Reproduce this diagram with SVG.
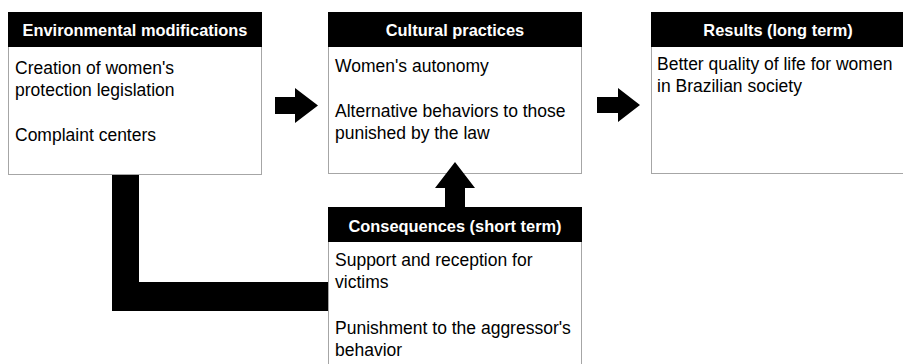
<svg xmlns="http://www.w3.org/2000/svg" width="903" height="364" viewBox="0 0 903 364">
<style>
.box{fill:#fff;stroke:#a6a6a6;stroke-width:1}
.hdr{fill:#000}
.ht{font-family:"Liberation Sans",Arial,sans-serif;font-weight:bold;font-size:16.4px;fill:#fff;text-anchor:middle}
.bt{font-family:"Liberation Sans",Arial,sans-serif;font-size:17.5px;fill:#000}
.conn{fill:#000}
</style>
<rect width="903" height="364" fill="#fff"/>
<g id="connectors">
<path class="conn" d="M112,175 H139 V282 H328 V311 H112 Z"/>
<path class="conn" d="M275,97 H295 V88 L318,105.5 L295,123 V114 H275 Z"/>
<path class="conn" d="M597,97 H618 V88 L640,105 L618,122 V113 H597 Z"/>
</g>
<g id="env">
<rect class="box" x="8.5" y="12.5" width="253" height="162"/>
<rect class="hdr" x="8" y="12" width="254" height="35"/>
<text class="ht" x="135" y="36">Environmental modifications</text>
<text class="bt" x="15" y="74">Creation of women's</text>
<text class="bt" x="15" y="96">protection legislation</text>
<text class="bt" x="15" y="141">Complaint centers</text>
</g>
<g id="cultural">
<rect class="box" x="328.5" y="12.5" width="253" height="161"/>
<rect class="hdr" x="328" y="12" width="254" height="35"/>
<text class="ht" x="455" y="36">Cultural practices</text>
<text class="bt" x="335" y="72">Women's autonomy</text>
<text class="bt" x="335" y="117">Alternative behaviors to those</text>
<text class="bt" x="335" y="139">punished by the law</text>
</g>
<g id="results">
<rect class="box" x="651.5" y="12.5" width="253" height="161"/>
<rect class="hdr" x="651" y="12" width="254" height="35"/>
<text class="ht" x="778" y="36">Results (long term)</text>
<text class="bt" x="657" y="70">Better quality of life for women</text>
<text class="bt" x="657" y="92">in Brazilian society</text>
</g>
<g id="consequences">
<rect class="box" x="328.5" y="207.5" width="253" height="170"/>
<rect class="hdr" x="328" y="207" width="254" height="35"/>
<text class="ht" x="455" y="232">Consequences (short term)</text>
<text class="bt" x="335" y="266">Support and reception for</text>
<text class="bt" x="335" y="288">victims</text>
<text class="bt" x="335" y="334">Punishment to the aggressor's</text>
<text class="bt" x="335" y="356">behavior</text>
</g>
<g id="connectors-up">
<path class="conn" d="M445,207 V188 H435 L455,162 L475,188 H465 V207 Z"/>
</g>
</svg>
